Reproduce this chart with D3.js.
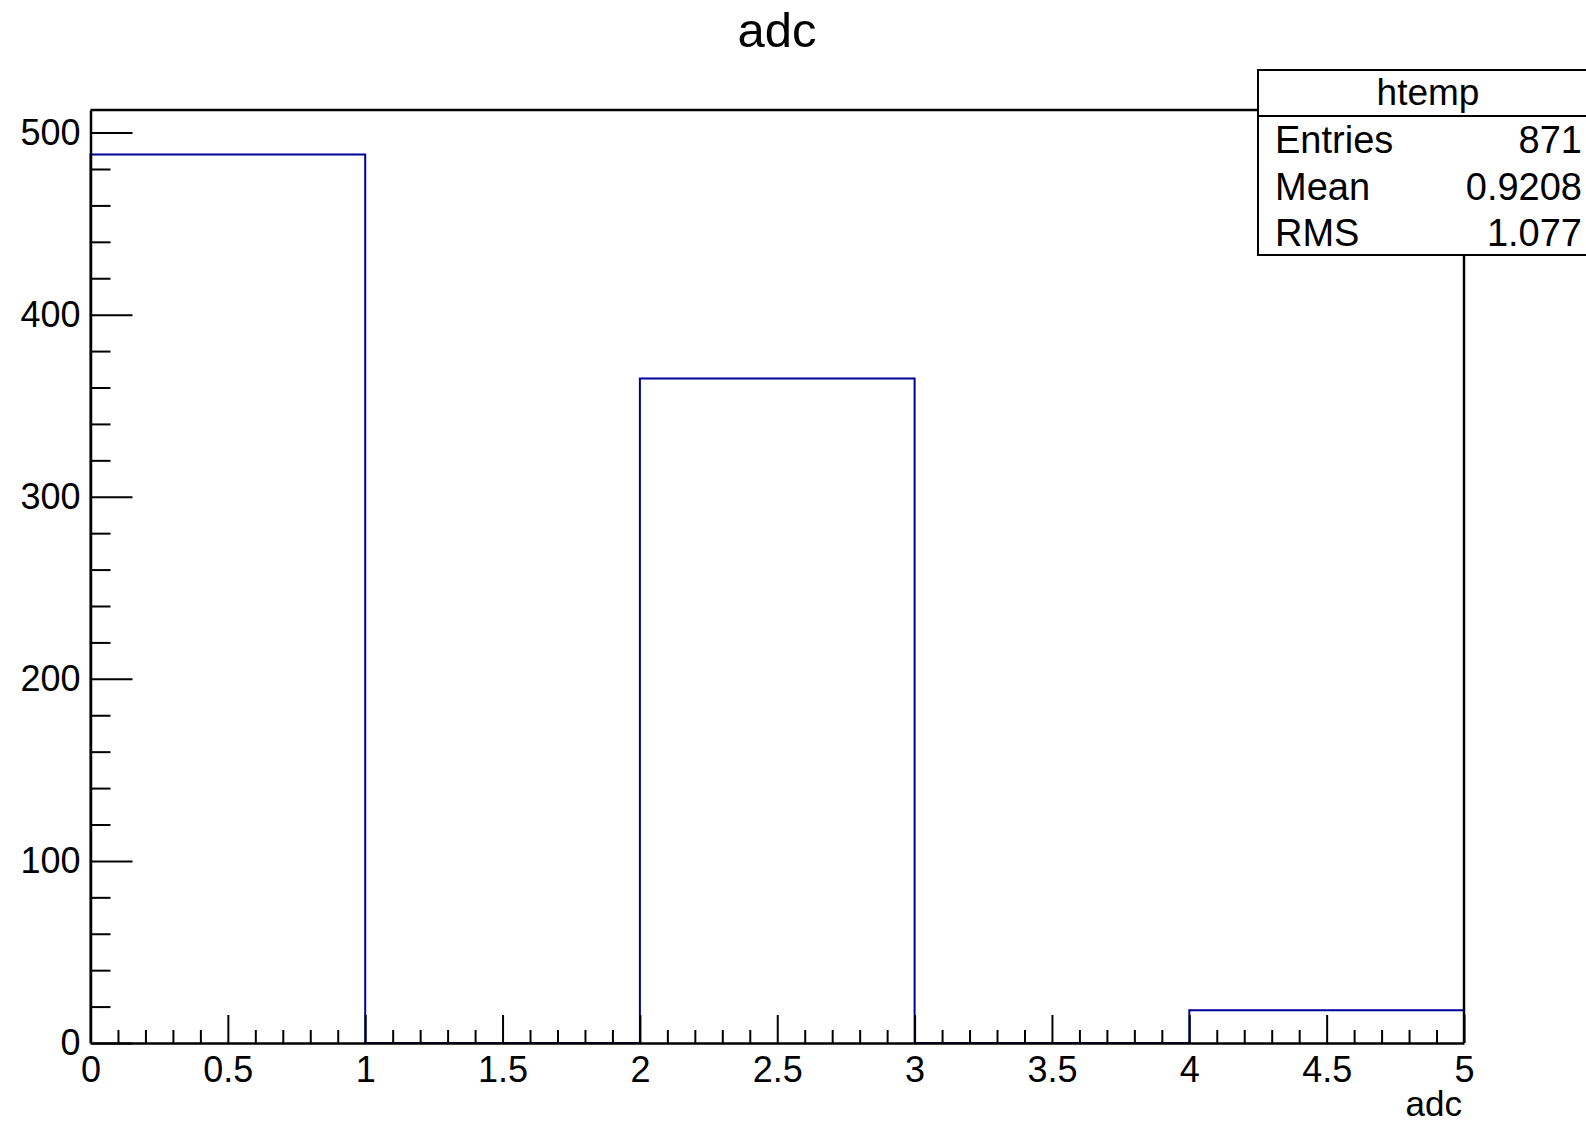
<!DOCTYPE html>
<html lang="en">
  <head>
    <meta charset="utf-8">
    <title>adc</title>
    <style>
      body {
        margin: 0;
        background: #fff;
        font-family: "Liberation Sans", Helvetica, Arial, sans-serif;
      }
      svg { display: block; }
    </style>
  </head>
  <body>
    <svg width="1586" height="1125"></svg>
    <script src="https://d3js.org/d3.v7.min.js"></script>
    <script>
      // histogram bins (low edges) and contents
      const binEdges = [0, 1, 2, 3, 4, 5];
      const binCounts = [488, 0, 365, 0, 18];

      const xTickValues = [0, 0.5, 1, 1.5, 2, 2.5, 3, 3.5, 4, 4.5, 5];
      const yTickValues = [0, 100, 200, 300, 400, 500];

      const statsTitle = "htemp";
      const statsLabels = ["Entries", "Mean", "RMS"];
      const statsValues = ["871", "0.9208", "1.077"];

      const margin = { left: 90.5, right: 1464, top: 110, bottom: 1043 };

      const svg = d3.select("svg");

      const x = d3.scaleLinear().domain([0, 5]).range([margin.left, margin.right]);
      const y = d3.scaleLinear().domain([0, 488 * 1.05]).range([margin.bottom, margin.top]);

      // title
      svg.append("text")
          .attr("x", 777)
          .attr("y", 47)
          .attr("text-anchor", "middle")
          .attr("font-size", 49)
          .text("adc");

      // histogram outline as steps
      const pts = [[x(binEdges[0]), y(0)]];
      binCounts.forEach((c, i) => {
        pts.push([x(binEdges[i]), y(c)]);
        pts.push([x(binEdges[i + 1]), y(c)]);
        pts.push([x(binEdges[i + 1]), y(0)]);
      });

      svg.append("path")
          .attr("d", d3.line()(pts))
          .attr("fill", "none")
          .attr("stroke", "#000099")
          .attr("stroke-width", 2);

      // x axis: majors and minors pointing up
      const xMinor = d3.range(0, 50).map(d => d / 10).filter(d => !xTickValues.some(t => Math.abs(t - d) < 1e-9));
      svg.append("g")
          .attr("transform", `translate(0,${margin.bottom})`)
          .call(d3.axisBottom(x).tickValues(xMinor).tickSize(-13).tickFormat(""))
          .call(g => g.select(".domain").remove())
          .call(g => g.selectAll("line").attr("stroke-width", 2));

      svg.append("g")
          .attr("transform", `translate(0,${margin.bottom})`)
          .call(d3.axisBottom(x).tickValues(xTickValues).tickSize(-28).tickSizeOuter(0).tickPadding(13).tickFormat(d3.format("")))
          .call(g => g.select(".domain").attr("stroke-width", 2.5))
          .call(g => g.selectAll("line").attr("stroke-width", 2))
          .call(g => g.selectAll("text")
              .attr("font-size", 36)
              .attr("font-family", "Liberation Sans, Arial, sans-serif")
              .attr("fill", "#000"));

      // y axis
      const yMinor = d3.range(20, 520, 20).filter(d => d % 100 !== 0);
      svg.append("g")
          .attr("transform", `translate(${margin.left},0)`)
          .call(d3.axisLeft(y).tickValues(yMinor).tickSize(-20).tickFormat(""))
          .call(g => g.select(".domain").remove())
          .call(g => g.selectAll("line").attr("stroke-width", 2));

      svg.append("g")
          .attr("transform", `translate(${margin.left},0)`)
          .call(d3.axisLeft(y).tickValues(yTickValues).tickSize(-42).tickSizeOuter(0).tickPadding(10))
          .call(g => g.select(".domain").attr("stroke-width", 2.5))
          .call(g => g.selectAll("line").attr("stroke-width", 2))
          .call(g => g.selectAll("text")
              .attr("font-size", 36)
              .attr("font-family", "Liberation Sans, Arial, sans-serif")
              .attr("fill", "#000"));

      // frame top and right
      svg.append("path")
          .attr("d", `M${margin.left},${margin.top}H${margin.right}V${margin.bottom}`)
          .attr("fill", "none")
          .attr("stroke", "#000")
          .attr("stroke-width", 2.5);

      // x axis title
      svg.append("text")
          .attr("x", margin.right - 2)
          .attr("y", 1116)
          .attr("text-anchor", "end")
          .attr("font-size", 35)
          .text("adc");

      // stats box
      const box = { x: 1258, y: 70, w: 340, h: 185, head: 46 };
      const stats = svg.append("g");
      stats.append("rect")
          .attr("x", box.x).attr("y", box.y)
          .attr("width", box.w).attr("height", box.h)
          .attr("fill", "#fff")
          .attr("stroke", "#000")
          .attr("stroke-width", 2);
      stats.append("line")
          .attr("x1", box.x).attr("x2", box.x + box.w)
          .attr("y1", box.y + box.head).attr("y2", box.y + box.head)
          .attr("stroke", "#000")
          .attr("stroke-width", 2);
      stats.append("text")
          .attr("x", box.x + box.w / 2)
          .attr("y", box.y + 35)
          .attr("text-anchor", "middle")
          .attr("font-size", 37)
          .text(statsTitle);

      const rowY = d3.scalePoint().domain(statsLabels).range([153, 246]);
      stats.selectAll("text.lab")
        .data(statsLabels)
        .join("text")
          .attr("class", "lab")
          .attr("x", box.x + 17)
          .attr("y", d => rowY(d))
          .attr("font-size", 38)
          .text(d => d);
      stats.selectAll("text.val")
        .data(statsValues)
        .join("text")
          .attr("class", "val")
          .attr("x", 1582)
          .attr("y", (d, i) => rowY(statsLabels[i]))
          .attr("text-anchor", "end")
          .attr("font-size", 38)
          .text(d => d);
    </script>
  </body>
</html>
